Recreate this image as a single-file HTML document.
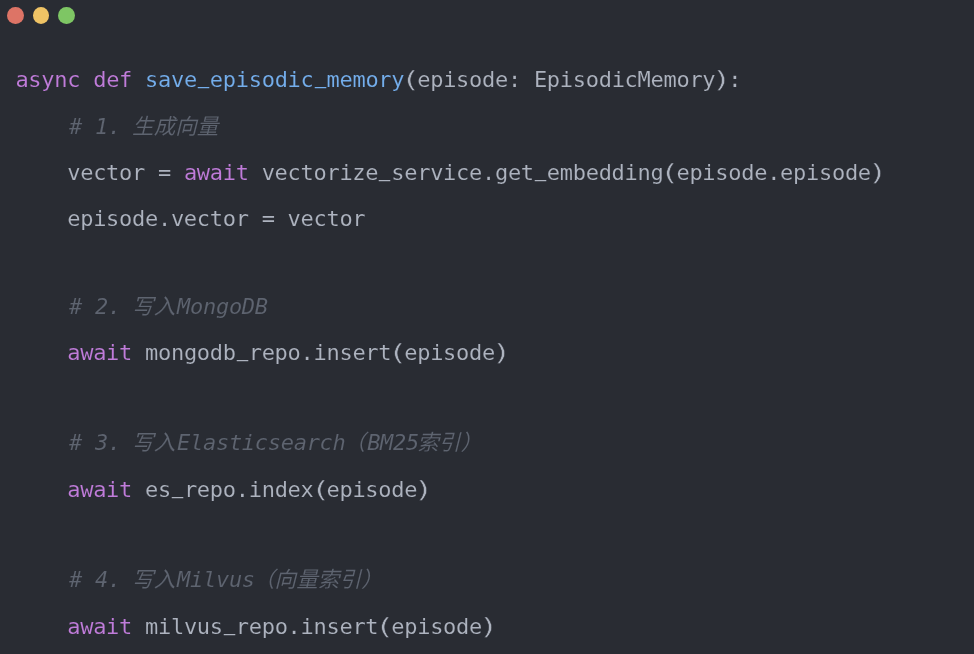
<!DOCTYPE html>
<html lang="zh-CN">
<head>
<meta charset="utf-8">
<title>save_episodic_memory</title>
<style>
*{margin:0;padding:0;box-sizing:border-box}
html,body{width:974px;height:654px;overflow:hidden;background:#292c33}
body{position:relative}
.dot{position:absolute;top:7px;width:16.8px;height:17.2px;border-radius:50%}
.r{left:7.1px;background:#dd7466}
.y{left:32.5px;background:#efc365}
.g{left:58.2px;background:#7ec664}
.code{position:absolute;left:0;top:0;width:974px;height:654px;will-change:transform}
.ln{position:absolute;left:15.4px;height:40px;line-height:40px;font-family:"DejaVu Sans Mono","Liberation Mono","Noto Sans CJK SC",monospace;font-size:22px;color:#adb3bf;white-space:pre;letter-spacing:-0.285px;font-kerning:none;font-variant-ligatures:none;-webkit-text-stroke:0.1px #292c33}
.k{color:#c07cda}
.f{color:#74aeec}
.c{color:#5e6470;font-style:italic}
.l{position:relative;left:1.8px}
.z{letter-spacing:0px;font-size:21.6px;position:relative;top:0.35px}
.p{display:inline-block;-webkit-text-stroke:0.4px #292c33;transform:translateY(0.5px) scale(1.5,1.08)}
.u{display:inline-block;-webkit-text-stroke:0;transform:translateY(-9.25px) scale(0.87,1.45)}
</style>
</head>
<body>
<span class="dot r"></span><span class="dot y"></span><span class="dot g"></span>
<div class="code">
<div class="ln" style="top:60px"><span class="k">async</span> <span class="k">def</span> <span class="f">save<span class="u">_</span>episodic<span class="u">_</span>memory</span><span class="p">(</span>episode: EpisodicMemory<span class="p">)</span>:</div>
<div class="ln" style="top:107px">    <span class="c"><span class="l"># 1. </span><span class="z">生成向量</span></span></div>
<div class="ln" style="top:153px">    vector = <span class="k">await</span> vectorize<span class="u">_</span>service.get<span class="u">_</span>embedding<span class="p">(</span>episode.episode<span class="p">)</span></div>
<div class="ln" style="top:199px">    episode.vector = vector</div>
<div class="ln" style="top:287px">    <span class="c"><span class="l"># 2. </span><span class="z">写入</span><span class="l">MongoDB</span></span></div>
<div class="ln" style="top:333px">    <span class="k">await</span> mongodb<span class="u">_</span>repo.insert<span class="p">(</span>episode<span class="p">)</span></div>
<div class="ln" style="top:423px">    <span class="c"><span class="l"># 3. </span><span class="z">写入</span><span class="l">Elasticsearch</span><span class="z">（</span><span class="l">BM25</span><span class="z">索引）</span></span></div>
<div class="ln" style="top:470px">    <span class="k">await</span> es<span class="u">_</span>repo.index<span class="p">(</span>episode<span class="p">)</span></div>
<div class="ln" style="top:560px">    <span class="c"><span class="l"># 4. </span><span class="z">写入</span><span class="l">Milvus</span><span class="z">（向量索引）</span></span></div>
<div class="ln" style="top:607px">    <span class="k">await</span> milvus<span class="u">_</span>repo.insert<span class="p">(</span>episode<span class="p">)</span></div>
</div>
</body>
</html>
